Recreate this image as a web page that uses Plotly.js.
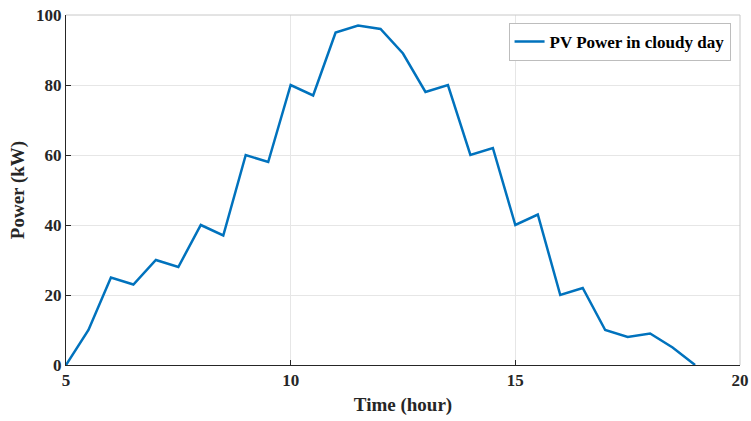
<!DOCTYPE html>
<html><head><meta charset="utf-8">
<script src="https://cdn.plot.ly/plotly-3.0.1.min.js"></script>
<style>body{margin:0;background:#fff}#chart{width:751px;height:421px}</style>
</head><body><div id="chart"></div>
<script>
const hours = [5,5.5,6,6.5,7,7.5,8,8.5,9,9.5,10,10.5,11,11.5,12,12.5,13,13.5,14,14.5,15,15.5,16,16.5,17,17.5,18,18.5,19];
const power = [0,10,25,23,30,28,40,37,60,58,80,77,95,97,96,89,78,80,60,62,40,43,20,22,10,8,9,5,0];
const seriesName = 'PV Power in cloudy day';
const xTicks = [5,10,15,20];
const yTicks = [0,20,40,60,80,100];

const fontFam = '"Liberation Serif", "Times New Roman", serif';
Plotly.newPlot('chart', [{
  x: hours, y: power, type: 'scatter', mode: 'lines', name: seriesName,
  line: {color: '#0072BD', width: 2.5}
}], {
  width: 751, height: 421,
  margin: {l: 66, r: 11, t: 15, b: 56},
  paper_bgcolor: '#fff', plot_bgcolor: '#fff',
  font: {family: fontFam, color: '#262626'},
  showlegend: true,
  legend: {x: 0.986, y: 0.977, xanchor: 'right', yanchor: 'top', bgcolor: '#fff',
    bordercolor: '#bdbdbd', borderwidth: 1,
    font: {family: fontFam, size: 17, color: '#000', weight: 'bold'}},
  xaxis: {range: [5, 20], tickvals: xTicks, ticktext: xTicks.map(String),
    showgrid: true, gridcolor: '#e6e6e6', zeroline: false,
    showline: true, linecolor: '#262626', linewidth: 1, mirror: false,
    ticks: 'inside', ticklen: 5, tickcolor: '#262626',
    tickfont: {size: 17, weight: 'bold', color: '#262626'},
    title: {text: 'Time (hour)', font: {size: 19, weight: 'bold', color: '#262626'}, standoff: 8}},
  yaxis: {range: [0, 100], tickvals: yTicks, ticktext: yTicks.map(String),
    showgrid: true, gridcolor: '#e6e6e6', zeroline: false,
    showline: true, linecolor: '#262626', linewidth: 1, mirror: false,
    ticks: 'inside', ticklen: 5, tickcolor: '#262626',
    tickfont: {size: 17, weight: 'bold', color: '#262626'},
    title: {text: 'Power (kW)', font: {size: 19, weight: 'bold', color: '#262626'}, standoff: 6}},
  shapes: [
    {type: 'line', xref: 'paper', yref: 'paper', x0: 0, x1: 1, y0: 1, y1: 1, line: {color: '#c8c8c8', width: 1}},
    {type: 'line', xref: 'paper', yref: 'paper', x0: 1, x1: 1, y0: 0, y1: 1, line: {color: '#c8c8c8', width: 1}}
  ]
}, {displayModeBar: false, staticPlot: true});
</script></body></html>
